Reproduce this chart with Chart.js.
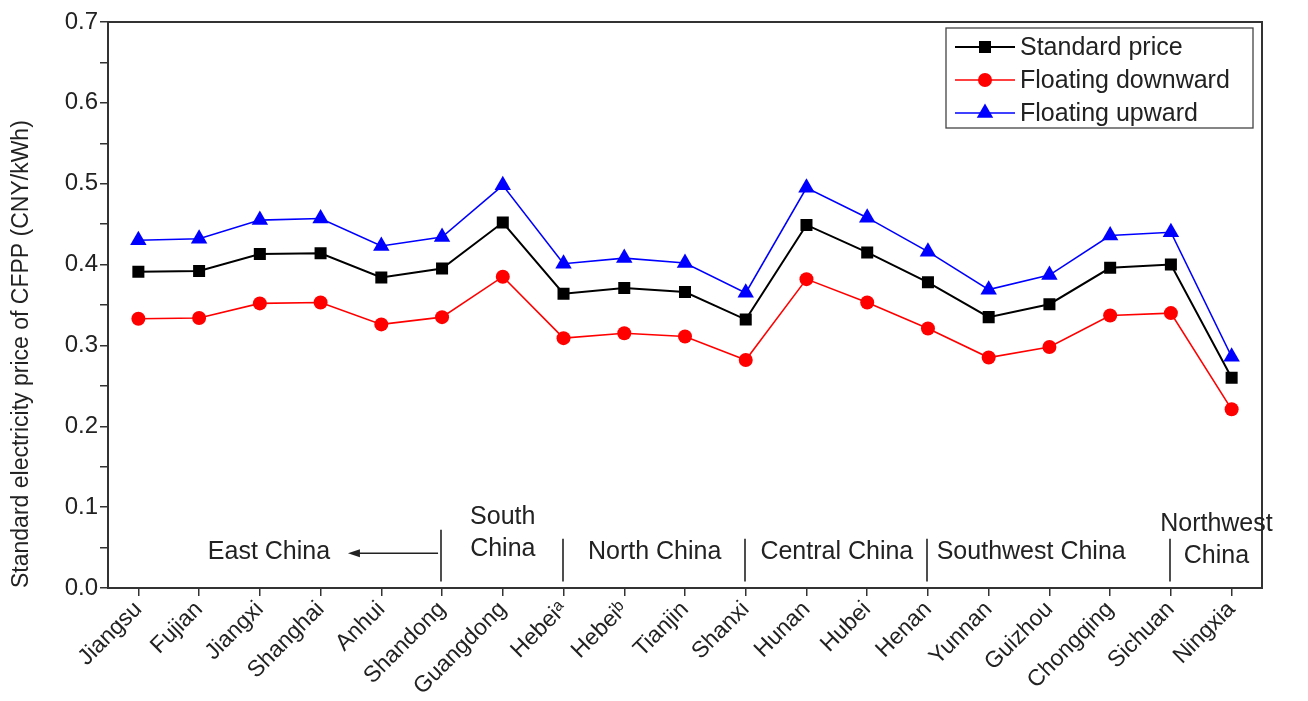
<!DOCTYPE html>
<html>
<head>
<meta charset="utf-8">
<script src="https://cdn.jsdelivr.net/npm/chart.js@4.4.1/dist/chart.umd.min.js"></script>
<style>
body { margin: 0; background: #fff; }
#wrap { width: 1308px; height: 701px; }
</style>
</head>
<body>
<div id="wrap"><canvas id="priceChart"></canvas></div>
<script>
const provinces = ['Jiangsu', 'Fujian', 'Jiangxi', 'Shanghai', 'Anhui', 'Shandong', 'Guangdong',
    'Hebei\u1d43', 'Hebei\u1d47', 'Tianjin', 'Shanxi', 'Hunan', 'Hubei', 'Henan', 'Yunnan',
    'Guizhou', 'Chongqing', 'Sichuan', 'Ningxia'];
const standardPrice = [0.391, 0.392, 0.413, 0.414, 0.384, 0.395, 0.452, 0.364, 0.371, 0.366,
    0.332, 0.449, 0.415, 0.378, 0.335, 0.351, 0.396, 0.400, 0.260];
const floatingDown = [0.333, 0.334, 0.352, 0.353, 0.326, 0.335, 0.385, 0.309, 0.315, 0.311,
    0.282, 0.382, 0.353, 0.321, 0.285, 0.298, 0.337, 0.340, 0.221];
const floatingUp = [0.430, 0.432, 0.455, 0.457, 0.423, 0.434, 0.498, 0.401, 0.408, 0.402,
    0.365, 0.495, 0.458, 0.416, 0.369, 0.387, 0.436, 0.440, 0.286];
const yTickLabels = ['0.0', '0.1', '0.2', '0.3', '0.4', '0.5', '0.6', '0.7'];

// region names shown along the bottom of the plot, and the province index where each group ends
const regionNames = [['East China'], ['South', 'China'], ['North China'], ['Central China'],
    ['Southwest China'], ['Northwest', 'China']];
const regionEnds = [5, 7, 10, 13, 17];

const FONT = 'Arial, "Liberation Sans", sans-serif';

// frame, region dividers and labels
const regionPlugin = {
    id: 'regions',
    afterDatasetsDraw(chart) {
        const { ctx, chartArea: a, scales: { x, y } } = chart;
        ctx.save();
        ctx.strokeStyle = '#333';
        ctx.lineWidth = 2;
        ctx.strokeRect(a.left, a.top, a.right - a.left, a.bottom - a.top);

        ctx.lineWidth = 1.6;
        ctx.strokeStyle = '#222';
        regionEnds.forEach((idx, i) => {
            const px = Math.round(x.getPixelForValue(idx)) - 1;
            const top = i === 0 ? 0.072 : 0.061;
            ctx.beginPath();
            ctx.moveTo(px, y.getPixelForValue(top));
            ctx.lineTo(px, y.getPixelForValue(0.008));
            ctx.stroke();
        });

        // East China arrow
        const ay = y.getPixelForValue(0.043);
        const ax0 = x.getPixelForValue(5) - 4;
        const ax1 = x.getPixelForValue(3.45);
        ctx.beginPath();
        ctx.moveTo(ax0, ay);
        ctx.lineTo(ax1 + 8, ay);
        ctx.stroke();
        ctx.fillStyle = '#222';
        ctx.beginPath();
        ctx.moveTo(ax1, ay);
        ctx.lineTo(ax1 + 12, ay - 4);
        ctx.lineTo(ax1 + 12, ay + 4);
        ctx.closePath();
        ctx.fill();

        const centers = [2.15, 6, 8.5, 11.5, 14.7, 17.75];
        ctx.font = '25px ' + FONT;
        ctx.textAlign = 'center';
        ctx.textBaseline = 'middle';
        regionNames.forEach((lines, i) => {
            const cx = x.getPixelForValue(centers[i]);
            if (lines.length === 1) {
                ctx.fillText(lines[0], cx, y.getPixelForValue(0.045));
            } else {
                const y0 = i === 1 ? 0.088 : 0.079;
                ctx.fillText(lines[0], cx, y.getPixelForValue(y0));
                ctx.fillText(lines[1], cx, y.getPixelForValue(y0 - 0.04));
            }
        });
        ctx.restore();
    }
};

// legend with line + marker samples
const legendPlugin = {
    id: 'lineLegend',
    afterDraw(chart) {
        const { ctx, chartArea: a } = chart;
        const left = a.right - 316, top = a.top + 6;
        ctx.save();
        ctx.fillStyle = '#fff';
        ctx.fillRect(left, top, 307, 100);
        ctx.strokeStyle = '#444';
        ctx.lineWidth = 1.3;
        ctx.strokeRect(left, top, 307, 100);
        ctx.font = '25px ' + FONT;
        ctx.textBaseline = 'middle';
        chart.data.datasets.forEach((ds, i) => {
            const ry = top + 19 + i * 33;
            ctx.strokeStyle = ds.borderColor;
            ctx.lineWidth = ds.borderWidth;
            ctx.beginPath();
            ctx.moveTo(left + 9, ry);
            ctx.lineTo(left + 69, ry);
            ctx.stroke();
            ctx.fillStyle = ds.pointBackgroundColor;
            ctx.strokeStyle = ds.borderColor;
            Chart.helpers.drawPoint(ctx, {
                pointStyle: ds.pointStyle, radius: ds.pointRadius, rotation: 0, borderWidth: 0
            }, left + 39, ry);
            ctx.fillStyle = '#222';
            ctx.fillText(ds.label, left + 74, ry + 1);
        });
        ctx.restore();
    }
};

new Chart(document.getElementById('priceChart'), {
    type: 'line',
    data: {
        labels: provinces,
        datasets: [{
            label: 'Standard price',
            data: standardPrice,
            borderColor: '#000',
            pointBackgroundColor: '#000',
            borderWidth: 2,
            pointStyle: 'rect',
            pointRadius: 8.5,
            pointBorderWidth: 0
        }, {
            label: 'Floating downward',
            data: floatingDown,
            borderColor: '#ff0000',
            pointBackgroundColor: '#ff0000',
            borderWidth: 1.6,
            pointStyle: 'circle',
            pointRadius: 7,
            pointBorderWidth: 0
        }, {
            label: 'Floating upward',
            data: floatingUp,
            borderColor: '#0000ff',
            pointBackgroundColor: '#0000ff',
            borderWidth: 1.6,
            pointStyle: 'triangle',
            pointRadius: 9.5,
            pointBorderWidth: 0
        }]
    },
    options: {
        responsive: true,
        maintainAspectRatio: false,
        animation: false,
        layout: { padding: { top: 22, right: 46, left: 0, bottom: 0 } },
        plugins: { legend: { display: false }, tooltip: { enabled: false } },
        scales: {
            x: {
                offset: true,
                afterFit: scale => { scale.height = 113; },
                grid: { drawOnChartArea: false, tickLength: 8, color: '#333', lineWidth: 1.5 },
                border: { color: '#333', width: 2 },
                ticks: {
                    autoSkip: false, minRotation: 45, maxRotation: 45, padding: 0,
                    color: '#222', font: { family: FONT, size: 23 }
                }
            },
            y: {
                min: 0,
                max: 0.7,
                afterFit: scale => { scale.width = 108; },
                grid: { drawOnChartArea: false, tickLength: 8, color: '#333', lineWidth: 1.5 },
                border: { color: '#333', width: 2 },
                ticks: {
                    stepSize: 0.05, maxTicksLimit: 20, padding: 2,
                    color: '#222', font: { family: FONT, size: 24 },
                    callback: v => {
                        const k = Math.round(v * 100);
                        return k % 10 === 0 ? yTickLabels[k / 10] : '';
                    }
                },
                title: {
                    display: true,
                    align: 'start',
                    text: 'Standard electricity price of CFPP (CNY/kWh)',
                    color: '#222',
                    font: { family: FONT, size: 23 },
                    padding: { top: 8, bottom: 0 }
                }
            }
        }
    },
    plugins: [regionPlugin, legendPlugin]
});
</script>
</body>
</html>
